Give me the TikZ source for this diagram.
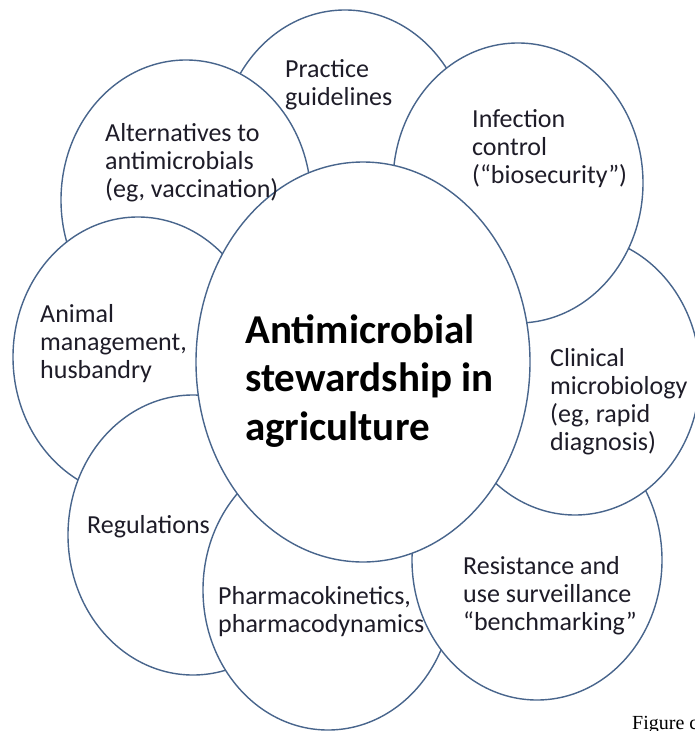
\documentclass[tikz,border=0pt]{standalone}
\usepackage{fontspec}
\setmainfont{Carlito}
\newfontfamily\captionfont{Liberation Serif}
\usetikzlibrary{shapes.geometric}
\definecolor{rimblue}{RGB}{72,101,140}
\definecolor{inkdark}{RGB}{30,28,40}
\tikzset{
  petal/.style={ellipse, draw=rimblue, line width=1.4pt, fill=white,
    minimum width=250pt, minimum height=280pt, inner sep=0pt},
  hub/.style={ellipse, draw=rimblue, line width=1.4pt, fill=white,
    minimum width=334pt, minimum height=400pt, inner sep=0pt},
  % multi-line labels are placed by the baseline of their last line
  petaltext/.style={anchor=base west, align=left, inner sep=0pt, text=inkdark,
    font=\fontsize{26}{28}\selectfont},
  hubtext/.style={anchor=base west, align=left, inner sep=0pt, text=black,
    font=\bfseries\fontsize{41}{48.5}\selectfont}
}
\begin{document}
\begin{tikzpicture}[x=1pt,y=-1pt]
\useasboundingbox (0,0) rectangle (695,731);
\clip (0,0) rectangle (695,731);
% petals, drawn from the lowest layer upwards
\node[petal] (practice)   at (345,150) {};
\node[petal] (altern)     at (186,200) {};
\node[petal] (animal)     at (138,357) {};
\node[petal] (regul)      at (193,535) {};
\node[petal] (pharma)     at (328,590) {};
\node[petal] (resist)     at (537,560) {};
\node[petal] (clinical)   at (575,375) {};
\node[petal] (infection)  at (518,183) {};
% central circle on top
\node[hub] (hub) at (363,362) {};

% labels
\node[hubtext] (hubl) at (245,440) {Antimicrobial\\stewardship in\\agriculture};
\node[petaltext] (practicel) at (285,105) {Practice\\guidelines};
\node[petaltext] (alternl) at (105,197) {Alternatives to\\antimicrobials\\(eg, vaccination)};
\node[petaltext] (infectionl) at (472,183) {Infection\\control\\(“biosecurity”)};
\node[petaltext] (animall) at (40,378) {Animal\\management,\\husbandry};
\node[petaltext] (clinicall) at (550,450) {Clinical\\microbiology\\(eg, rapid\\diagnosis)};
\node[petaltext] (regull) at (87,533) {Regulations};
\node[petaltext] (pharmal) at (218,632) {Pharmacokinetics,\\pharmacodynamics};
\node[petaltext] (resistl) at (463,630) {Resistance and\\use surveillance\\“benchmarking”};

\node[anchor=base west, inner sep=0pt, font=\captionfont\fontsize{20}{24}\selectfont]
  (caption) at (632,729) {Figure c};
\end{tikzpicture}
\end{document}
